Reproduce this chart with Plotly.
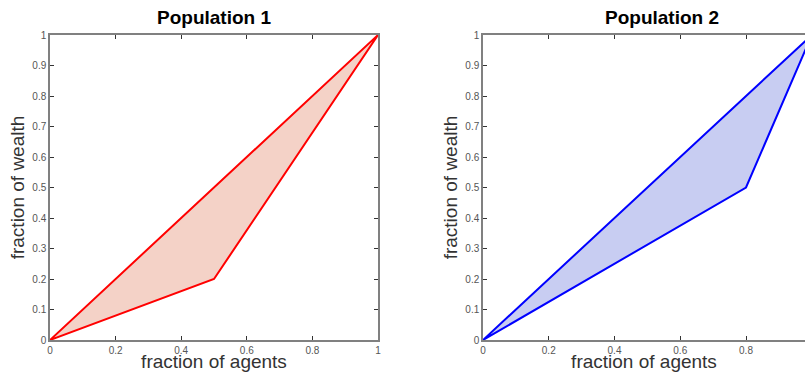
import plotly.graph_objects as go

agents_1 = [0, 0.5, 1]
wealth_1 = [0, 0.2, 1]
agents_2 = [0, 0.8, 1]
wealth_2 = [0, 0.5, 1]
equality = [0, 1]
tick_vals = [0, 0.1, 0.2, 0.3, 0.4, 0.5, 0.6, 0.7, 0.8, 0.9, 1]
x_ticks = [0, 0.2, 0.4, 0.6, 0.8, 1]
titles = ["Population 1", "Population 2"]

fig = go.Figure()

def add_pop(ax, ay, line_col, fill_col, xa, ya):
    px = ax + equality[::-1]
    py = ay + equality[::-1]
    fig.add_trace(go.Scatter(x=px, y=py, mode="lines", fill="toself",
                             fillcolor=fill_col, line=dict(color=line_col, width=2),
                             xaxis=xa, yaxis=ya, showlegend=False, hoverinfo="skip"))

add_pop(agents_1, wealth_1, "#ff0000", "rgba(240,195,180,0.75)", "x", "y")
add_pop(agents_2, wealth_2, "#0000ff", "rgba(190,196,240,0.85)", "x2", "y2")

W, H = 805, 372
ydom = [1 - 340 / H, 1 - 35 / H]
fam = "Liberation Sans, Arial, sans-serif"
tickfont = dict(family=fam, size=10, color="#555")
titlefont = dict(family=fam, size=19, color="#333")
axcommon = dict(showgrid=False, zeroline=False, showline=True, linecolor="#808080",
                linewidth=1.5, ticks="inside", ticklen=4, tickcolor="#333",
                tickfont=tickfont, title_font=titlefont, automargin=False)

x2_max = (805 - 483) / ((746 - 483) / 0.8)

fig.update_layout(
    width=W, height=H, margin=dict(l=0, r=0, t=0, b=0, autoexpand=False),
    paper_bgcolor="white", plot_bgcolor="white",
    xaxis=dict(domain=[50 / W, 378 / W], range=[0, 1], tickvals=x_ticks,
               ticktext=[f"{v:g}" for v in x_ticks], mirror="allticks",
               title=dict(text="fraction of agents", standoff=3), anchor="y", **axcommon),
    yaxis=dict(domain=ydom, range=[0, 1], tickvals=tick_vals,
               ticktext=[f"{v:g}" for v in tick_vals], mirror="allticks",
               title=dict(text="fraction of wealth", standoff=3), anchor="x", **axcommon),
    xaxis2=dict(domain=[483 / W, 1.0], range=[0, x2_max],
                tickvals=x_ticks, ticktext=[f"{v:g}" for v in x_ticks], mirror="allticks",
                title=dict(text="fraction of agents", standoff=3), anchor="y2", **axcommon),
    yaxis2=dict(domain=ydom, range=[0, 1], tickvals=tick_vals,
                ticktext=[f"{v:g}" for v in tick_vals], mirror=False,
                title=dict(text="fraction of wealth", standoff=3), anchor="x2", **axcommon),
)

for i, t in enumerate(titles):
    fig.add_annotation(text=f"<b>{t}</b>", x=[214, 662][i] / W, y=1 - 18 / H,
                       xref="paper", yref="paper", xanchor="center", yanchor="middle",
                       showarrow=False, font=dict(family=fam, size=19, color="black"))

fig.write_html("out.html", config={"displayModeBar": False},
               post_script="document.body.style.margin='0';document.body.style.overflow='hidden';")
